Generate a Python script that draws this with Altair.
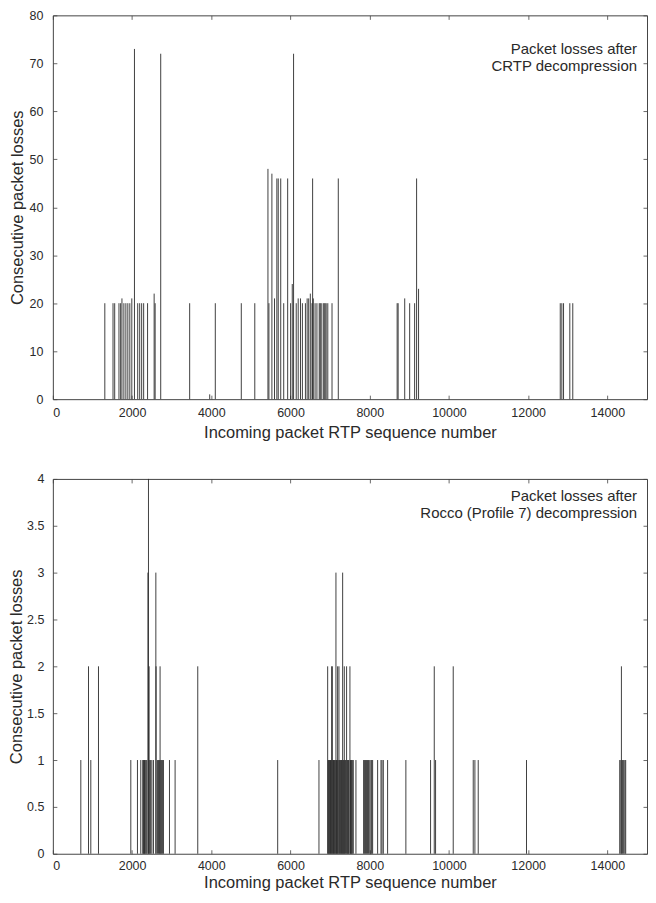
import altair as alt
import pandas as pd

# ---------------- data ----------------
crtp_seq = [1312, 1519, 1561, 1669, 1711, 1744, 1793, 1843, 1893, 1943, 1993, 2060, 2142, 2192,
            2242, 2292, 2391, 2557, 2582, 2723,
            3454, 3960, 4101, 4757, 5098,
            5430, 5455, 5530, 5596, 5655, 5690, 5753, 5828, 5928, 6002, 6044, 6077, 6144, 6194,
            6252, 6300, 6376, 6420, 6459, 6500, 6542, 6558, 6575, 6620, 6667, 6725, 6750, 6775,
            6825, 6850, 6874, 6900, 6941, 7048, 7206,
            8692, 8717, 8883, 9008, 9133, 9183, 9233,
            12810, 12850, 12893, 13051, 13126]
crtp_loss = [20, 20, 20, 20, 20, 21, 20, 20, 20, 20, 21, 73, 20, 20,
             20, 20, 20, 22, 20, 72,
             20, 1, 20, 20, 20,
             48, 20, 47, 21, 46, 46, 46, 20, 46, 20, 24, 72, 20, 21,
             21, 20, 20, 21, 21, 22, 20, 46, 21, 20, 20, 20, 20, 20,
             20, 20, 20, 20, 20, 20, 46,
             20, 20, 21, 20, 20, 46, 23,
             20, 20, 20, 20, 20]

rocco_seq = [706, 900, 958, 1152, 1968, 2136, 2220, 2270, 2285, 2300, 2315, 2330, 2350, 2371,
             2400, 2414, 2430, 2447, 2470, 2500, 2540, 2600, 2606, 2640, 2666, 2690, 2707, 2725,
             2740, 2770, 2792, 2944, 3086, 3658, 5676, 6718,
             6938, 6950, 6965, 6980, 6995, 7010, 7025, 7038, 7056, 7070, 7085, 7100, 7115, 7130,
             7147, 7160, 7175, 7189, 7205, 7223, 7240, 7255, 7270, 7285, 7300, 7316, 7330, 7345,
             7358, 7372, 7390, 7416, 7430, 7445, 7460, 7475, 7500, 7515, 7530, 7545, 7560, 7585,
             7652, 7845, 7870, 7895, 7920, 7945, 7970, 8000, 8030, 8050, 8073, 8199, 8284, 8310,
             8343, 8451, 8912, 9536, 9629, 9662, 10108, 10613, 10655, 10739, 11958,
             14311, 14340, 14354, 14380, 14410, 14440, 14462]
rocco_loss = [1, 2, 1, 2, 1, 1, 1, 1, 1, 1, 1, 1, 1, 1,
              3, 4, 2, 1, 1, 1, 1, 3, 2, 1, 1, 1, 2, 1,
              1, 1, 1, 1, 1, 2, 1, 1,
              2, 1, 1, 1, 1, 1, 1, 2, 2, 1, 1, 1, 1, 1,
              3, 1, 1, 2, 1, 2, 1, 1, 1, 1, 1, 3, 1, 1,
              2, 1, 1, 2, 1, 1, 1, 1, 2, 1, 1, 1, 1, 1,
              1, 1, 1, 1, 1, 1, 1, 1, 1, 1, 1, 1, 1, 1,
              1, 1, 1, 1, 2, 1, 2, 1, 1, 1, 1,
              1, 1, 2, 1, 1, 1, 1]

x_ticks = [0, 2000, 4000, 6000, 8000, 10000, 12000, 14000]
crtp_y_ticks = [0, 10, 20, 30, 40, 50, 60, 70, 80]
rocco_y_ticks = [0, 0.5, 1, 1.5, 2, 2.5, 3, 3.5, 4]

crtp_note = ["Packet losses after", "CRTP decompression"]
rocco_note = ["Packet losses after", "Rocco (Profile 7) decompression"]

x_title = "Incoming packet RTP sequence number"
y_title = "Consecutive packet losses"

FONT = "Liberation Sans"
TXT = "#2a2a2a"


def panel(seq, loss, ymax, yticks, width, height, note, note_y,
          ytitle_pad, ylabel_pad, xlabel_pad, xtitle_pad):
    df = pd.DataFrame({"seq": seq, "loss": loss})
    one = pd.DataFrame({"k": [0]})
    xs = alt.Scale(domain=[0, 15000], nice=False, zero=False)
    ys = alt.Scale(domain=[0, ymax], nice=False)

    spikes = alt.Chart(df).mark_rule(color="#262626", strokeWidth=1, opacity=0.88).encode(
        x=alt.X("seq:Q", scale=xs, axis=alt.Axis(
            values=x_ticks, format="d", title=x_title, offset=-4, tickSize=4,
            domain=False, labelPadding=xlabel_pad, titlePadding=xtitle_pad)),
        y=alt.Y("loss:Q", scale=ys, axis=alt.Axis(
            values=yticks, format=".1~f", title=y_title, offset=-4, tickSize=4,
            domain=False, labelPadding=ylabel_pad, titlePadding=ytitle_pad)),
        y2=alt.datum(0),
    )
    ticks = alt.Chart(df).mark_rule(opacity=0).encode(
        x=alt.X("seq:Q", scale=xs, axis=alt.Axis(
            orient="top", values=x_ticks, labels=False, title=None, offset=-4,
            tickSize=4, domain=False, minExtent=0)),
        y=alt.Y("loss:Q", scale=ys, axis=alt.Axis(
            orient="right", values=yticks, labels=False, title=None, offset=-4,
            tickSize=4, domain=False, minExtent=0)),
        y2=alt.datum(0),
    )
    text = alt.Chart(one).mark_text(
        text=note, align="right", baseline="top", fontSize=15, lineHeight=17,
        font=FONT, color=TXT,
    ).encode(x=alt.value(width - 10), y=alt.value(note_y))

    return alt.layer(spikes, ticks, text).resolve_axis(
        x="independent", y="independent"
    ).properties(width=width, height=height)


top = panel(crtp_seq, crtp_loss, 80, crtp_y_ticks, 596, 385, crtp_note, 27,
            3.1, 10, 7, 6)
bottom = panel(rocco_seq, rocco_loss, 4, rocco_y_ticks, 596, 376, rocco_note, 10,
               1.6, 9, 6, 2)

chart = alt.concat(top, bottom, columns=1, spacing=30, align="none").properties(
    padding={"left": 0, "top": -1, "right": 0, "bottom": 0}
).configure_axis(
    grid=False,
    labelFont=FONT, labelFontSize=12.5, labelColor=TXT,
    titleFont=FONT, titleFontSize=16.5, titleFontWeight="normal", titleColor=TXT,
    tickColor="#444", tickWidth=0.8,
).configure_view(stroke="#444", strokeWidth=1)

chart.save("out.html", embed_options={"renderer": "svg", "actions": False})
